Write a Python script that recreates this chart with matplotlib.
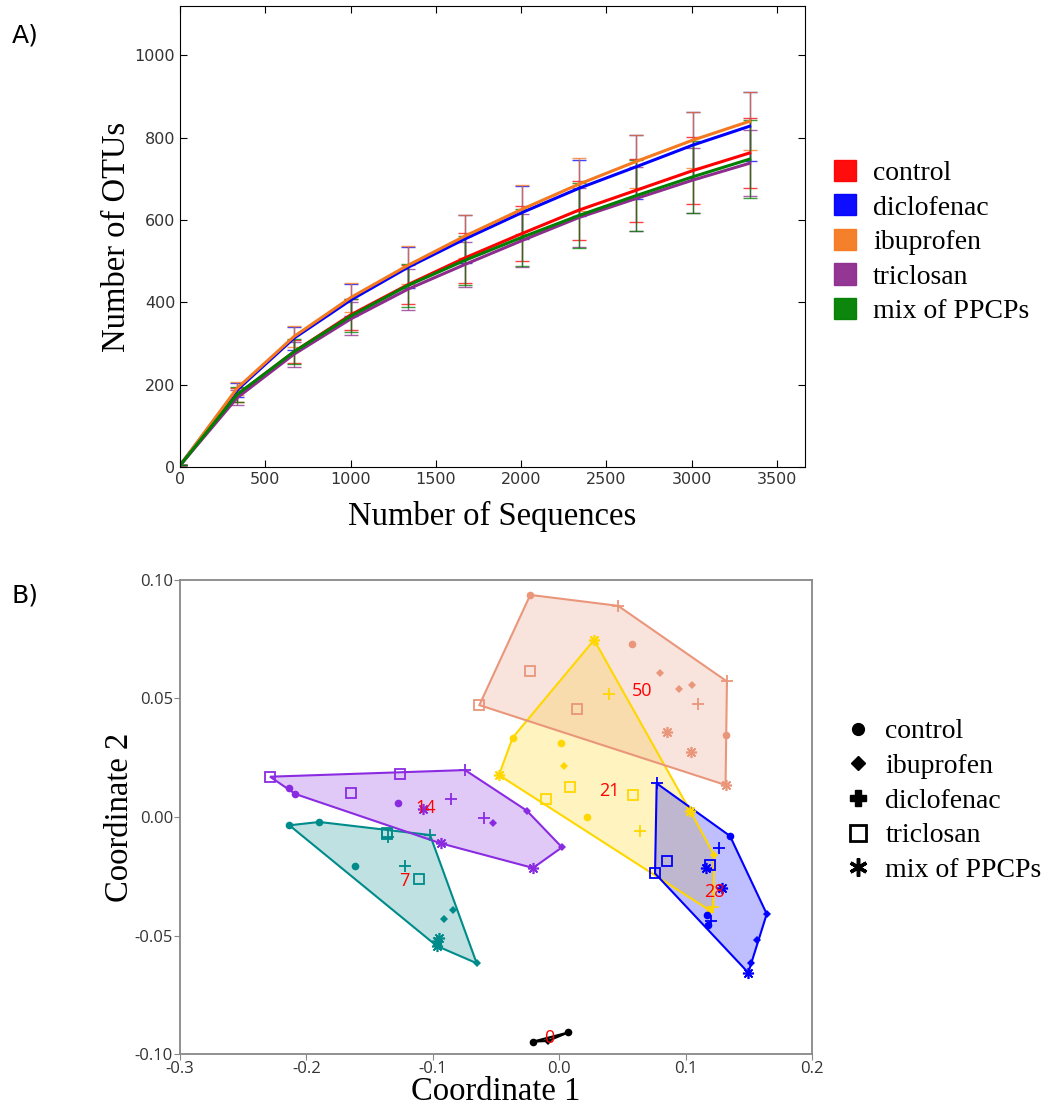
import numpy as np
import matplotlib.pyplot as plt
from matplotlib.patches import Patch, Polygon
from matplotlib.lines import Line2D

# ---- A) rarefaction curves ----
seqs = [0, 334, 668, 1002, 1336, 1670, 2004, 2338, 2672, 3006, 3340]

otu_control    = [4, 175, 280, 370, 443, 508, 567, 624, 672, 720, 763]
otu_diclofenac = [4, 187, 313, 406, 485, 554, 618, 677, 729, 782, 828]
otu_ibuprofen  = [4, 191, 317, 412, 490, 561, 626, 687, 742, 794, 840]
otu_triclosan  = [4, 168, 274, 360, 432, 492, 550, 606, 652, 697, 738]
otu_mix        = [4, 176, 280, 367, 441, 502, 558, 611, 659, 705, 748]

err_control    = [0, 18, 28, 38, 48, 60, 66, 72, 76, 82, 86]
err_diclofenac = [0, 16, 28, 38, 50, 58, 65, 68, 77, 80, 84]
err_ibuprofen  = [0, 16, 26, 36, 46, 52, 60, 64, 64, 68, 70]
err_triclosan  = [0, 18, 30, 40, 50, 55, 64, 72, 78, 79, 80]
err_mix        = [0, 18, 30, 40, 52, 60, 70, 78, 86, 87, 95]

treatments_a = ["control", "diclofenac", "ibuprofen", "triclosan", "mix of PPCPs"]

# ---- B) PCoA, points as (treatment, coord1, coord2) ----
day0 = [("control", -0.021, -0.0948), ("control", 0.0072, -0.0909),
        ("ibuprofen", -0.009, -0.0945)]
day7 = [("control", -0.2135, -0.0035), ("control", -0.1898, -0.0021), ("control", -0.1618, -0.0205),
        ("triclosan", -0.136, -0.0072), ("triclosan", -0.1107, -0.0263), ("triclosan", -0.1365, -0.0068),
        ("diclofenac", -0.1352, -0.0083), ("diclofenac", -0.1022, -0.0076), ("diclofenac", -0.122, -0.0207),
        ("ibuprofen", -0.0843, -0.0392), ("ibuprofen", -0.0911, -0.0432), ("ibuprofen", -0.0653, -0.0617),
        ("mix", -0.0953, -0.0511), ("mix", -0.0969, -0.0544), ("mix", -0.0965, -0.0525)]
day14 = [("control", -0.2135, 0.0124), ("control", -0.2088, 0.0097), ("control", -0.1278, 0.0058),
         ("ibuprofen", -0.0526, -0.0024), ("ibuprofen", -0.0257, 0.0027), ("ibuprofen", 0.0022, -0.0128),
         ("diclofenac", -0.0745, 0.0198), ("diclofenac", -0.0856, 0.0076), ("diclofenac", -0.0595, -0.0006),
         ("triclosan", -0.2288, 0.017), ("triclosan", -0.1262, 0.018), ("triclosan", -0.1647, 0.010),
         ("mix", -0.1075, 0.0032), ("mix", -0.0938, -0.0111), ("mix", -0.0207, -0.0215)]
day21 = [("mix", 0.0276, 0.0747), ("mix", -0.0477, 0.0177), ("mix", 0.1038, 0.0024),
         ("diclofenac", 0.0394, 0.0519), ("diclofenac", 0.0639, -0.0058), ("diclofenac", 0.122, -0.038),
         ("control", -0.0368, 0.0335), ("control", 0.0017, 0.0312), ("control", 0.0217, -0.0001),
         ("ibuprofen", 0.0036, 0.0216), ("ibuprofen", 0.1225, -0.016), ("ibuprofen", 0.1193, -0.0395),
         ("triclosan", 0.0084, 0.0128), ("triclosan", -0.0104, 0.0076), ("triclosan", 0.0581, 0.0092)]
day28 = [("diclofenac", 0.0771, 0.0142), ("diclofenac", 0.1262, -0.013), ("diclofenac", 0.120, -0.044),
         ("control", 0.1351, -0.008), ("control", 0.1172, -0.0414), ("control", 0.118, -0.0456),
         ("ibuprofen", 0.1642, -0.0409), ("ibuprofen", 0.1568, -0.0519), ("ibuprofen", 0.1515, -0.0617),
         ("triclosan", 0.085, -0.0186), ("triclosan", 0.0758, -0.0238), ("triclosan", 0.1193, -0.0203),
         ("mix", 0.1161, -0.0214), ("mix", 0.1285, -0.0301), ("mix", 0.1496, -0.0657)]
day50 = [("control", -0.0229, 0.0937), ("control", 0.0578, 0.0731), ("control", 0.132, 0.0346),
         ("diclofenac", 0.0466, 0.0891), ("diclofenac", 0.1327, 0.0572), ("diclofenac", 0.110, 0.0478),
         ("triclosan", -0.0632, 0.0472), ("triclosan", -0.0231, 0.0617), ("triclosan", 0.0142, 0.0456),
         ("ibuprofen", 0.0795, 0.0608), ("ibuprofen", 0.095, 0.0538), ("ibuprofen", 0.1051, 0.0556),
         ("mix", 0.0851, 0.0359), ("mix", 0.104, 0.0273), ("mix", 0.1316, 0.0135)]

days = ["0", "7", "14", "21", "28", "50"]
groups = [day0, day7, day14, day21, day28, day50]
group_colors = ["black", "#008B8B", "#8A2BE2", "#FFD700", "#0000FF", "#E9967A"]


def convex_hull(pts):
    pts = sorted(set(pts))
    def cross(o, a, b):
        return (a[0] - o[0]) * (b[1] - o[1]) - (a[1] - o[1]) * (b[0] - o[0])
    lower, upper = [], []
    for p in pts:
        while len(lower) >= 2 and cross(lower[-2], lower[-1], p) <= 0:
            lower.pop()
        lower.append(p)
    for p in reversed(pts):
        while len(upper) >= 2 and cross(upper[-2], upper[-1], p) <= 0:
            upper.pop()
        upper.append(p)
    return lower[:-1] + upper[:-1]


fig = plt.figure(figsize=(10.51, 11.13), dpi=100)

# ================= A =================
ax1 = fig.add_axes([0.1713, 0.5804, 0.5947, 0.4142])
curves = [otu_control, otu_diclofenac, otu_ibuprofen, otu_triclosan, otu_mix]
errs = [err_control, err_diclofenac, err_ibuprofen, err_triclosan, err_mix]
line_colors = ["#FF0000", "#0000FF", "#F5791F", "#8E2C8E", "#008000"]
for y, e, c in zip(curves, errs, line_colors):
    ax1.errorbar(seqs, y, yerr=e, color=c, elinewidth=1, capsize=5, capthick=1,
                 alpha=0.75, fmt="none")
for y, c in zip(curves, line_colors):
    ax1.plot(seqs, y, color=c, lw=2.2)

ax1.set_xlim(0, 3665)
ax1.set_ylim(0, 1120)
ax1.set_xticks(range(0, 3501, 500))
ax1.set_yticks(range(0, 1001, 200))
ax1.tick_params(direction="in", top=True, right=True, length=5, labelsize=11.5,
                labelcolor="#333333")
ax1.set_xlabel("Number of Sequences", family="Liberation Serif", fontsize=23.5, labelpad=10)
ax1.set_ylabel("Number of OTUs", family="Liberation Serif", fontsize=23.5, labelpad=2)

handles_a = [Patch(facecolor=c, edgecolor=c, alpha=0.95) for c in line_colors]
fig.legend(handles_a, treatments_a, loc="center left", bbox_to_anchor=(0.770, 1 - 242 / 1113),
           frameon=False, prop={"family": "Liberation Serif", "size": 20},
           handlelength=0.8, handleheight=0.8, handletextpad=0.6, labelspacing=0.3)

# ================= B =================
ax2 = fig.add_axes([0.1713, 0.0530, 0.6013, 0.4259])
mstyle = {
    "control":    dict(marker="o", ms=5.5, mew=0),
    "ibuprofen":  dict(marker="D", ms=4, mew=0),
    "diclofenac": dict(marker="+", ms=8.5, mew=1.3),
    "triclosan":  dict(marker="s", ms=6.5, mew=1.3, mfc="none"),
    "mix":        dict(marker=(8, 2, 0), ms=8, mew=1.2),
}

for day, pts, c in zip(days, groups, group_colors):
    xy = [(p[1], p[2]) for p in pts]
    hull = convex_hull(xy)
    ax2.add_patch(Polygon(hull, closed=True, facecolor=c, alpha=0.25, edgecolor="none", zorder=1))
    ax2.add_patch(Polygon(hull, closed=True, facecolor="none", edgecolor=c, lw=1.5, zorder=2))
    for t, x, y in pts:
        st = dict(mstyle[t])
        ax2.plot(x, y, ls="none", color=c, mec=c, zorder=3, **st)
    cx = np.mean([p[1] for p in pts])
    cy = np.mean([p[2] for p in pts])
    ax2.text(cx, cy, day, color="red", fontsize=13, family="Open Sans",
             ha="center", va="center", zorder=4)

ax2.set_xlim(-0.3, 0.2)
ax2.set_ylim(-0.10, 0.10)
ax2.set_xticks([-0.3, -0.2, -0.1, 0.0, 0.1, 0.2])
ax2.set_xticklabels(["-0.3", "-0.2", "-0.1", "0.0", "0.1", "0.2"])
ax2.set_yticks([-0.10, -0.05, 0.0, 0.05, 0.10])
ax2.set_yticklabels(["-0.10", "-0.05", "0.00", "0.05", "0.10"])
for s in ax2.spines.values():
    s.set_color("#888888")
    s.set_linewidth(1.3)
ax2.tick_params(direction="out", length=4, color="#888888", labelsize=12,
                labelcolor="#333333", pad=1)
for lab in ax2.get_xticklabels() + ax2.get_yticklabels():
    lab.set_family("Open Sans")
ax2.set_xlabel("Coordinate 1", family="Liberation Serif", fontsize=23.5, labelpad=0)
ax2.set_ylabel("Coordinate 2", family="Liberation Serif", fontsize=23.5, labelpad=0)

handles_b = [
    Line2D([], [], ls="none", marker="o", ms=8.5, color="black"),
    Line2D([], [], ls="none", marker="D", ms=7, color="black"),
    Line2D([], [], ls="none", marker="P", ms=12, color="black"),
    Line2D([], [], ls="none", marker="s", ms=11, mfc="none", mec="black", mew=2),
    Line2D([], [], ls="none", marker=(6, 2, 0), ms=13, mew=2.5, color="black"),
]
fig.legend(handles_b, ["control", "ibuprofen", "diclofenac", "triclosan", "mix of PPCPs"],
           loc="center left", bbox_to_anchor=(0.779, 1 - 801 / 1113),
           frameon=False, prop={"family": "Liberation Serif", "size": 20},
           handlelength=1.0, handletextpad=0.5, labelspacing=0.33)

fig.text(0.011, 1 - 35 / 1113, "A)", fontsize=18, va="center")
fig.text(0.011, 1 - 595 / 1113, "B)", fontsize=18, va="center")

fig.savefig("out.png", dpi=100)
